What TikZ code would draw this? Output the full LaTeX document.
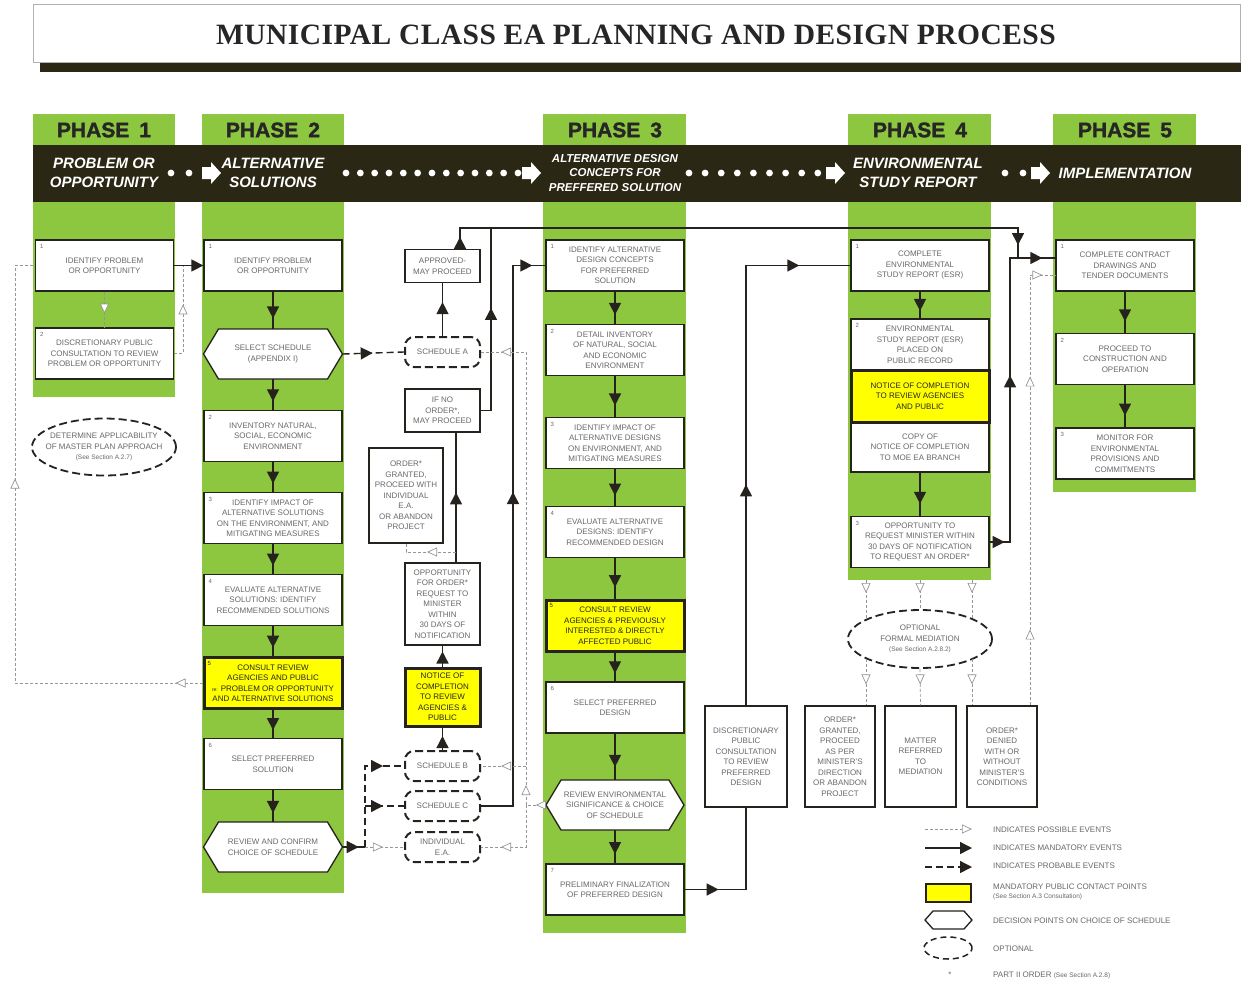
\documentclass[tikz,border=0pt]{standalone}
\usepackage{fontspec}
\setmainfont{Liberation Sans}
\newfontfamily\titlefont[LetterSpace=1.5]{Liberation Serif}
\newfontfamily\heavyfont[BoldFeatures={FakeBold=1.5}]{Liberation Sans}
\usetikzlibrary{arrows.meta,decorations.markings,shapes.geometric}

\definecolor{leaf}{RGB}{141,198,63}
\definecolor{band}{RGB}{42,39,20}
\definecolor{ink}{RGB}{38,34,30}
\definecolor{boxtext}{RGB}{105,105,105}
\definecolor{faint}{RGB}{150,150,150}
\definecolor{notice}{RGB}{255,255,0}

\tikzset{
  fulltip/.tip={Triangle[length=12pt,width=12pt]},
  opentip/.tip={Triangle[length=10pt,width=9pt,fill=white]}
}

\begin{document}
\begin{tikzpicture}[
  x=1pt, y=-1pt,
  box font/.style={font=\fontsize{8}{10.5}\selectfont, text=boxtext},
  stepbox/.style={draw=ink, line width=1.3pt, fill=white, minimum width=138pt,
    minimum height=51pt, inner sep=1pt, align=center, box font},
  contact/.style={stepbox, fill=notice, line width=3pt, text=black!85},
  sidebox/.style={draw=ink, line width=1.1pt, fill=white, minimum width=75pt,
    inner sep=1pt, align=center, box font},
  sched/.style={draw=ink, line width=2pt, dash pattern=on 8pt off 4pt,
    rounded corners=9pt, fill=white, minimum width=75pt, minimum height=30pt,
    inner sep=1pt, align=center, box font},
  optional/.style={ellipse, draw=ink, line width=1.8pt, dash pattern=on 8pt off 4pt,
    fill=white, inner sep=0pt},
  elltext/.style={align=center, box font, inner sep=0pt},
  hexline/.style={draw=ink, line width=1.3pt, fill=white},
  hexnode/.style={minimum width=139pt, minimum height=50pt, inner sep=1pt,
    align=center, box font},
  num/.style={anchor=north west, inner sep=5pt, font=\fontsize{6}{6}\selectfont,
    text=boxtext},
  phase/.style={font=\heavyfont\bfseries\fontsize{21}{21}\selectfont, text=black!85},
  stage/.style={text=white, align=center, inner sep=0pt,
    font=\heavyfont\bfseries\itshape\fontsize{15}{19}\selectfont},
  legend/.style={anchor=west, align=left, inner sep=0pt, box font},
  mandatory/.style={draw=ink, line width=1.4pt},
  probable/.style={draw=ink, line width=1.4pt, dash pattern=on 7pt off 4pt},
  possible/.style={draw=faint, line width=0.7pt, dash pattern=on 3pt off 2pt},
  mtip/.style={postaction={decorate, decoration={markings,
    mark=at position #1 with {\arrow{fulltip}}}}},
  mtip/.default=0.72,
  otip/.style={postaction={decorate, decoration={markings,
    mark=at position #1 with {\arrow{opentip}}}}},
  otip/.default=0.6
]
\useasboundingbox (0,0) rectangle (1241,983);
\fill[white] (0,0) rectangle (1241,983);

% Title
\fill[band] (40,62) rectangle (1241,72);
\filldraw[fill=white, draw=gray!60, line width=0.8pt] (33,4) rectangle (1240,62);
\node[font=\titlefont\bfseries\fontsize{29.5}{29.5}\selectfont, text=black!85] (title) at (636,35)
  {MUNICIPAL CLASS EA PLANNING AND DESIGN PROCESS};

% Phase columns and header band
\fill[leaf] (33,114) rectangle (175,397);
\fill[leaf] (202,114) rectangle (344,893);
\fill[leaf] (543,114) rectangle (686,933);
\fill[leaf] (848,114) rectangle (991,580);
\fill[leaf] (1053,114) rectangle (1196,492);
\fill[band] (33,145) rectangle (1241,202);

\node[phase] (ph1) at (104,130) {PHASE\hspace{10pt}1};
\node[phase] (ph2) at (273,130) {PHASE\hspace{10pt}2};
\node[phase] (ph3) at (615,130) {PHASE\hspace{10pt}3};
\node[phase] (ph4) at (920,130) {PHASE\hspace{10pt}4};
\node[phase] (ph5) at (1125,130) {PHASE\hspace{10pt}5};

\node[stage] (st1) at (104,173) {PROBLEM OR\\OPPORTUNITY};
\node[stage] (st2) at (273,173) {ALTERNATIVE\\SOLUTIONS};
\node[stage, font=\heavyfont\bfseries\itshape\fontsize{11.5}{14.5}\selectfont] (st3) at (615,173)
  {ALTERNATIVE DESIGN\\CONCEPTS FOR\\PREFFERED SOLUTION};
\node[stage] (st4) at (918,173) {ENVIRONMENTAL\\STUDY REPORT};
\node[stage] (st5) at (1125,173) {IMPLEMENTATION};

% dotted leaders between stages
\foreach \x in {171,189,1005,1023}
  \fill[white] (\x,173) circle (3.4pt);
\foreach \k in {0,...,12}
  \fill[white] ({346+14.33*\k},173) circle (3.4pt);
\foreach \k in {0,...,8}
  \fill[white] ({689+16.1*\k},173) circle (3.4pt);
\foreach \x in {202,522,826,1031}
  \fill[white] (\x,167) -- (\x+9,167) -- (\x+9,162) -- (\x+19,173)
    -- (\x+9,184) -- (\x+9,179) -- (\x,179) -- cycle;

% Phase 1
\node[stepbox, label={[num]north west:1}] (p1a) at (104.5,265.5)
  {IDENTIFY PROBLEM\\OR OPPORTUNITY};
\node[stepbox, label={[num]north west:2}] (p1b) at (104.5,353.5)
  {DISCRETIONARY PUBLIC\\CONSULTATION TO REVIEW\\PROBLEM OR OPPORTUNITY};
\node[optional, minimum width=144pt, minimum height=57pt,
  label={[elltext]center:DETERMINE APPLICABILITY\\OF MASTER PLAN APPROACH\\{\fontsize{6.5}{9}\selectfont (See Section A.2.7)}}]
  (master) at (104,447) {};

% Phase 2
\filldraw[hexline] (203.5,354) -- (218.5,329) -- (327.5,329) -- (342.5,354)
  -- (327.5,379) -- (218.5,379) -- cycle;
\filldraw[hexline] (203.5,847) -- (218.5,822) -- (327.5,822) -- (342.5,847)
  -- (327.5,872) -- (218.5,872) -- cycle;
\node[stepbox, label={[num]north west:1}] (p2a) at (273,265.5)
  {IDENTIFY PROBLEM\\OR OPPORTUNITY};
\node[hexnode] (hexsel) at (273,354) {SELECT SCHEDULE\\(APPENDIX I)};
\node[stepbox, label={[num]north west:2}] (p2b) at (273,436)
  {INVENTORY NATURAL,\\SOCIAL, ECONOMIC\\ENVIRONMENT};
\node[stepbox, label={[num]north west:3}] (p2c) at (273,518)
  {IDENTIFY IMPACT OF\\ALTERNATIVE SOLUTIONS\\ON THE ENVIRONMENT, AND\\MITIGATING MEASURES};
\node[stepbox, label={[num]north west:4}] (p2d) at (273,600)
  {EVALUATE ALTERNATIVE\\SOLUTIONS: IDENTIFY\\RECOMMENDED SOLUTIONS};
\node[contact, label={[num, text=black!85]north west:5}] (p2e) at (273,683)
  {CONSULT REVIEW\\AGENCIES AND PUBLIC\\{\fontsize{5}{5}\selectfont re:} PROBLEM OR OPPORTUNITY\\AND ALTERNATIVE SOLUTIONS};
\node[stepbox, label={[num]north west:6}] (p2f) at (273,764)
  {SELECT PREFERRED\\SOLUTION};
\node[hexnode] (hexconf) at (273,847) {REVIEW AND CONFIRM\\CHOICE OF SCHEDULE};

% Schedules and ministerial orders
\node[sidebox, minimum height=33pt] (approved) at (442.5,266) {APPROVED-\\MAY PROCEED};
\node[sched] (schA) at (442.5,352) {SCHEDULE A};
\node[sidebox, minimum height=43pt] (noorder) at (442.5,410.5) {IF NO\\ORDER*,\\MAY PROCEED};
\node[sidebox, minimum width=74pt, minimum height=95pt] (granted) at (406,495.5)
  {ORDER*\\GRANTED,\\PROCEED WITH\\INDIVIDUAL\\E.A.\\OR ABANDON\\PROJECT};
\node[sidebox, minimum height=82pt] (opportunity) at (442.5,604)
  {OPPORTUNITY\\FOR ORDER*\\REQUEST TO\\MINISTER\\WITHIN\\30 DAYS OF\\NOTIFICATION};
\node[contact, minimum width=75pt, minimum height=58pt] (notice) at (442.5,697)
  {NOTICE OF\\COMPLETION\\TO REVIEW\\AGENCIES \&\\PUBLIC};
\node[sched] (schB) at (442.5,766) {SCHEDULE B};
\node[sched] (schC) at (442.5,806) {SCHEDULE C};
\node[sched] (indEA) at (442.5,847) {INDIVIDUAL\\E.A.};

% Phase 3
\filldraw[hexline] (546,805) -- (561,780) -- (669,780) -- (684,805)
  -- (669,830) -- (561,830) -- cycle;
\node[stepbox, label={[num]north west:1}] (p3a) at (615,265.5)
  {IDENTIFY ALTERNATIVE\\DESIGN CONCEPTS\\FOR PREFERRED\\SOLUTION};
\node[stepbox, label={[num]north west:2}] (p3b) at (615,350)
  {DETAIL INVENTORY\\OF NATURAL, SOCIAL\\AND ECONOMIC\\ENVIRONMENT};
\node[stepbox, label={[num]north west:3}] (p3c) at (615,443)
  {IDENTIFY IMPACT OF\\ALTERNATIVE DESIGNS\\ON ENVIRONMENT, AND\\MITIGATING MEASURES};
\node[stepbox, label={[num]north west:4}] (p3d) at (615,532)
  {EVALUATE ALTERNATIVE\\DESIGNS: IDENTIFY\\RECOMMENDED DESIGN};
\node[contact, label={[num, text=black!85]north west:5}] (p3e) at (615,625.5)
  {CONSULT REVIEW\\AGENCIES \& PREVIOUSLY\\INTERESTED \& DIRECTLY\\AFFECTED PUBLIC};
\node[stepbox, label={[num]north west:6}] (p3f) at (615,707.5)
  {SELECT PREFERRED\\DESIGN};
\node[hexnode, minimum width=138pt] (p3hex) at (615,805)
  {REVIEW ENVIRONMENTAL\\SIGNIFICANCE \& CHOICE\\OF SCHEDULE};
\node[stepbox, label={[num]north west:7}] (p3g) at (615,889.5)
  {PRELIMINARY FINALIZATION\\OF PREFERRED DESIGN};
\node[sidebox, minimum width=82pt, minimum height=101pt] (disc) at (746,756.5)
  {DISCRETIONARY\\PUBLIC\\CONSULTATION\\TO REVIEW\\PREFERRED\\DESIGN};

% Phase 4
\node[stepbox, label={[num]north west:1}] (p4a) at (920,265.5)
  {COMPLETE\\ENVIRONMENTAL\\STUDY REPORT (ESR)};
\node[stepbox, label={[num]north west:2}] (p4b) at (920,344.5)
  {ENVIRONMENTAL\\STUDY REPORT (ESR)\\PLACED ON\\PUBLIC RECORD};
\node[stepbox, minimum height=50pt] (p4copy) at (920,447)
  {COPY OF\\NOTICE OF COMPLETION\\TO MOE EA BRANCH};
\node[contact, minimum height=52pt] (p4notice) at (920,396)
  {NOTICE OF COMPLETION\\TO REVIEW AGENCIES\\AND PUBLIC};
\node[stepbox, label={[num]north west:3}] (p4c) at (920,542)
  {OPPORTUNITY TO\\REQUEST MINISTER WITHIN\\30 DAYS OF NOTIFICATION\\TO REQUEST AN ORDER*};
\node[optional, minimum width=144pt, minimum height=58pt,
  label={[elltext]center:OPTIONAL\\FORMAL MEDIATION\\{\fontsize{6.5}{9}\selectfont (See Section A.2.8.2)}}]
  (mediation) at (920,639) {};
\node[sidebox, minimum width=70pt, minimum height=101pt] (ogrant) at (840,756.5)
  {ORDER*\\GRANTED,\\PROCEED\\AS PER\\MINISTER'S\\DIRECTION\\OR ABANDON\\PROJECT};
\node[sidebox, minimum width=71pt, minimum height=101pt] (referred) at (920.5,756.5)
  {MATTER\\REFERRED\\TO\\MEDIATION};
\node[sidebox, minimum width=70pt, minimum height=101pt] (denied) at (1002,756.5)
  {ORDER*\\DENIED\\WITH OR\\WITHOUT\\MINISTER'S\\CONDITIONS};

% Phase 5
\node[stepbox, label={[num]north west:1}] (p5a) at (1125,265.5)
  {COMPLETE CONTRACT\\DRAWINGS AND\\TENDER DOCUMENTS};
\node[stepbox, label={[num]north west:2}] (p5b) at (1125,359)
  {PROCEED TO\\CONSTRUCTION AND\\OPERATION};
\node[stepbox, label={[num]north west:3}] (p5c) at (1125,453.5)
  {MONITOR FOR\\ENVIRONMENTAL\\PROVISIONS AND\\COMMITMENTS};

% Junctions
\coordinate (j0) at (183,265.5);
\coordinate (j1) at (456,552);
\coordinate (j2) at (365,847);
\coordinate (j3) at (526,805);
\coordinate (j4) at (526,766);
\coordinate (j5) at (1018,258);
\coordinate (j6) at (491,228);
\coordinate (m1) at (866,580);
\coordinate (m2) at (920,580);
\coordinate (m3) at (972,580);

% Mandatory flow down the columns
\foreach \a/\b in {p2a/hexsel, hexsel/p2b, p2b/p2c, p2c/p2d, p2d/p2e, p2e/p2f,
  p2f/hexconf, p3a/p3b, p3b/p3c, p3c/p3d, p3d/p3e, p3e/p3f, p3f/p3hex,
  p3hex/p3g, p4a/p4b, p4copy/p4c, p5a/p5b, p5b/p5c}
  \draw[mandatory, mtip] (\a.south) -- (\b.north);

% Phase 1 links
\draw[mandatory, -{fulltip}] (p1a.east) -- (p2a.west);
\draw[possible, otip=22pt] (p1a.south) -- (p1b.north);
\draw[possible, otip=58pt] (p1b.east) -- (p1b.east -| j0) -- (j0);
\draw[possible, otip=27pt, otip=392pt] (p2e.west) -- (15,683) -- (15,265.5) -- (p1a.west);

% Schedule choices
\draw[probable, mtip=30pt] (hexsel.east) -- (schA.west);
\draw[mandatory, mtip=0.64] (schA.north) -- (approved.south);
\draw[mandatory, mtip=12pt, mtip=596pt] ([xshift=17.5pt]approved.north) -- (460,228)
  -- (j5 |- j6) -- (j5);
\draw[mandatory, mtip=113pt] (noorder.east) -- (noorder.east -| j6) -- (j6);
\draw[mandatory, mtip=70pt] ([xshift=13.5pt]opportunity.north) -- ([xshift=13.5pt]noorder.south);
\draw[possible, otip=29pt] (j1) -- (j1 -| granted.south) -- (granted.south);
\draw[mandatory, mtip=15pt] (notice.north) -- (opportunity.south);
\draw[mandatory, mtip=14pt] (schB.north) -- (notice.south);
\draw[mandatory, mtip=16pt] (hexconf.east) -- (j2);
\draw[probable, mtip=-21pt] (j2) -- (j2 |- schB.west) -- (schB.west);
\draw[probable, mtip=-21pt] (j2 |- schC.west) -- (schC.west);
\draw[possible, otip=-21pt] (j2) -- (indEA.west);
\draw[mandatory, mtip=346pt, mtip=-13pt] (schC.east) -- (513,806) -- (513,265.5) -- (p3a.west);
\draw[possible, otip=10pt] (p3hex.west) -- (j3);
\draw[possible, otip=20pt, otip=-20pt] (j3) -- (j3 |- schA.east) -- (schA.east);
\draw[possible, otip=-20pt] (j4) -- (schB.east);
\draw[possible, otip=-20pt] (j3) -- (j3 |- indEA.east) -- (indEA.east);

% Phase 3 to 4
\draw[mandatory, mtip=34pt] (p3g.east) -- (p3g.east -| disc.south) -- (disc.south);
\draw[mandatory, mtip=221pt, mtip=-51pt] (disc.north) -- (disc.north |- p4a.west) -- (p4a.west);

% Phase 4 to 5
\draw[mandatory, mtip=15pt, mtip=187pt, mtip=-13pt] (p4c.east) -- (1010,542)
  -- (1010,258) -- ([yshift=7.5pt]p5a.west);
\draw[possible, otip=76pt, otip=329pt, otip=-13pt] ([xshift=28pt]denied.north)
  -- (1030,275) -- ([yshift=-9.5pt]p5a.west);

% Mediation
\draw[possible, otip=13pt] (m1) -- (m1 |- mediation.160);
\draw[possible, otip=13pt] (m2) -- (mediation.north);
\draw[possible, otip=13pt] (m3) -- (m3 |- mediation.20);
\draw[possible, otip=-21pt] (m1 |- mediation.200) -- (m1 |- ogrant.north);
\draw[possible, otip=-21pt] (mediation.south) -- (referred.north);
\draw[possible, otip=-21pt] (m3 |- mediation.340) -- (m3 |- denied.north);

% Legend
\coordinate (lg1a) at (925,829); \coordinate (lg1b) at (972,829);
\coordinate (lg2a) at (925,848); \coordinate (lg2b) at (972,848);
\coordinate (lg3a) at (925,867); \coordinate (lg3b) at (972,867);
\draw[possible, -{opentip}] (lg1a) -- (lg1b);
\draw[mandatory, -{fulltip}] (lg2a) -- (lg2b);
\draw[probable, -{fulltip}] (lg3a) -- (lg3b);
\node[draw=ink, line width=2.5pt, fill=notice, minimum width=45pt, minimum height=18pt]
  (lgbox) at (948.5,893) {};
\filldraw[hexline] (925,920) -- (933,911) -- (964,911) -- (972,920) -- (964,929)
  -- (933,929) -- cycle;
\node[optional, line width=1.5pt, dash pattern=on 6pt off 4pt, minimum width=48pt,
  minimum height=22pt] (lgell) at (948,948) {};
\node[box font] (lgstar) at (950,975) {*};
\node[legend] (lg1) at (993,830) {INDICATES POSSIBLE EVENTS};
\node[legend] (lg2) at (993,848) {INDICATES MANDATORY EVENTS};
\node[legend] (lg3) at (993,866) {INDICATES PROBABLE EVENTS};
\node[legend, font=\fontsize{8}{9.5}\selectfont] (lg4) at (993,892)
  {MANDATORY PUBLIC CONTACT POINTS\\{\fontsize{6.5}{8}\selectfont (See Section A.3 Consultation)}};
\node[legend] (lg5) at (993,921) {DECISION POINTS ON CHOICE OF SCHEDULE};
\node[legend] (lg6) at (993,949) {OPTIONAL};
\node[legend] (lg7) at (993,975) {PART II ORDER {\fontsize{6.5}{8}\selectfont (See Section A.2.8)}};

\end{tikzpicture}
\end{document}
